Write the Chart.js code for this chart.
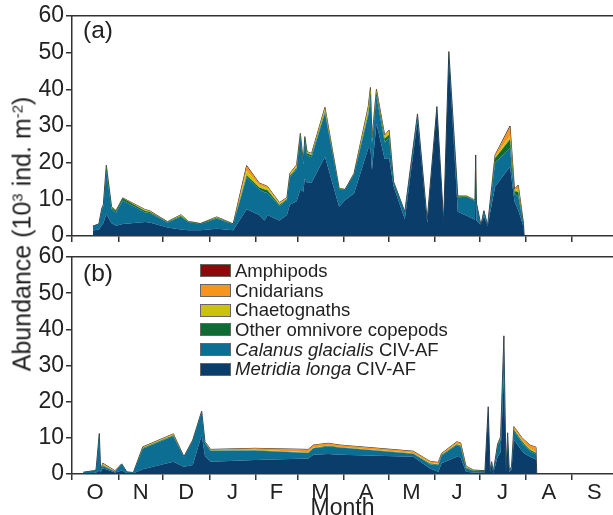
<!DOCTYPE html>
<html>
<head>
<meta charset="utf-8">
<script src="https://cdn.jsdelivr.net/npm/chart.js@4.4.1/dist/chart.umd.min.js"></script>
<style>
  html, body { margin: 0; padding: 0; background: #fff; overflow: hidden; }
  body { width: 613px; height: 515px; position: relative; font-family: 'Liberation Sans', Arial, sans-serif; color: #222; }
  canvas { position: absolute; left: 0; }
  #cTop { top: 0; }
  #cBottom { top: 240px; }
  .tag { position: absolute; left: 83px; font-size: 24.5px; line-height: 1; }
  #ytitle { position: absolute; left: 22px; top: 234px; transform: translate(-50%, -50%) rotate(-90deg); white-space: nowrap; font-size: 25px; }
  #ytitle sup { font-size: 0.6em; vertical-align: 0.55em; line-height: 0; }
  #legend { position: absolute; left: 200px; top: 261px; font-size: 18.5px; }
  #legend .row { height: 19.7px; display: flex; align-items: center; white-space: nowrap; }
  #legend .box { width: 31px; height: 13px; border: 1px solid #666; box-sizing: border-box; margin-right: 4px; }
</style>
</head>
<body>
<canvas id="cTop" width="613" height="254"></canvas>
<canvas id="cBottom" width="613" height="285"></canvas>
<div class="tag" style="top:18px">(a)</div>
<div class="tag" style="top:261px">(b)</div>
<div id="ytitle">Abundance (10<sup>3</sup> ind. m<sup>-2</sup>)</div>
<div id="legend"></div>
<script>
// x = days since 1 October
var monthStarts = [0, 31, 61, 92, 123, 151, 182, 212, 243, 273, 304, 335, 365];
var monthLetters = ['O', 'N', 'D', 'J', 'F', 'M', 'A', 'M', 'J', 'J', 'A', 'S'];
var yTicks = [0, 10, 20, 30, 40, 50, 60];

// bottom of stack first
var seriesNames = ['Metridia longa CIV-AF', 'Calanus glacialis CIV-AF', 'Other omnivore copepods', 'Chaetognaths', 'Cnidarians', 'Amphipods'];
var seriesColours = ['#0b3d6b', '#0b6e92', '#0f6a33', '#cbc30a', '#f7941d', '#8b0b0b'];

// panel (a)
var topDays = [14, 18, 20, 21, 23, 26.5, 29.5, 34, 49, 52, 64, 73, 78, 86, 97, 108, 117, 125.5, 129, 131,
  139, 144, 146, 150.5, 153, 155, 156, 157.5, 160.5, 169.5, 179, 183, 189, 198.5, 200, 201, 204, 209.5, 212.5, 215.5,
  223, 231.5, 238, 244.5, 249, 252.5, 258.5, 264.5, 270, 270.5, 271, 274, 276, 278.5, 283.5, 293.5, 296.5, 299, 302.5, 303];
var topMetridia = [1.5, 1.8, 3.0, 3.5, 6.0, 3.5, 2.8, 3.3, 3.8, 3.7, 2.3, 1.8, 1.6, 1.6, 2.0, 1.6, 7.3, 5.7, 4.2, 5.7,
  4.2, 5.7, 8.5, 9.5, 12.7, 12.1, 15.7, 14.5, 14.5, 21.6, 8.0, 9.8, 11.6, 23.9, 24.0, 18.0, 30.7, 21.0, 21.2, 13.5,
  4.6, 31.6, 3.6, 34.5, 3.6, 49.0, 6.6, 5.5, 4.4, 18.0, 4.2, 3.0, 5.5, 2.7, 13.5, 18.9, 9.4, 7.1, 2.5, 0];
var topCalanus = [1.2, 1.5, 4.2, 4.6, 11.8, 3.8, 3.6, 6.4, 2.6, 2.6, 1.4, 3.5, 2.2, 1.7, 2.8, 1.6, 8.7, 7.0, 7.7, 6.0,
  4.0, 4.2, 7.6, 8.8, 14.5, 7.5, 10.8, 7.5, 7.0, 12.0, 4.8, 2.8, 5.2, 9.0, 14.0, 7.3, 7.5, 4.6, 5.5, 1.1,
  1.9, 1.3, 0.7, 0.5, 0.3, 0.6, 4.0, 5.2, 5.2, 3.5, 4.7, 0, 1.2, 0.3, 6.5, 5.0, 2.0, 3.8, 0.8, 0];
var topOther = [0, 0, 0.3, 0.3, 1.0, 0.5, 0.4, 0.6, 0.4, 0.3, 0.1, 0.2, 0.1, 0.1, 0.2, 0.1, 0.6, 0.5, 0.8, 0.8,
  0.3, 0.2, 0.3, 0.3, 0.3, 0.3, 0.3, 0.6, 0.5, 0.3, 0.1, 0.1, 0.2, 0.6, 1.0, 0.5, 1.0, 0.9, 0.9, 0.1,
  0.1, 0.3, 0.1, 0.3, 0, 0.5, 0.2, 0.1, 0.1, 0.4, 0.1, 0, 0.2, 0, 1.2, 2.5, 0.8, 1.2, 0.2, 0];
var topChaeto = [0, 0, 0.1, 0.1, 0.3, 0.2, 0.1, 0.1, 0.3, 0.2, 0.1, 0.3, 0.1, 0, 0.2, 0, 1.1, 0.6, 0.6, 0.5,
  0.3, 0.2, 0.4, 0.5, 0.3, 0.2, 0.2, 0.3, 0.4, 0.8, 0.1, 0, 0.1, 1.2, 1.0, 0.6, 0.5, 0.6, 0.9, 0.1,
  0, 0.1, 0, 0, 0, 0.2, 0.1, 0.1, 0.1, 0.2, 0, 0, 0, 0, 0.5, 0.9, 0.3, 0.8, 0, 0];
var topCnid = [0, 0, 0, 0, 0.2, 0, 0, 0, 0.1, 0.1, 0, 0, 0, 0, 0, 0, 1.4, 0.6, 0.6, 0.5,
  0.3, 0.2, 0.3, 0.3, 0.2, 0.2, 0.1, 0.1, 0.1, 0.4, 0, 0, 0, 0.6, 0.5, 0.3, 0.3, 0.4, 0.4, 0,
  0, 0, 0, 0, 0, 0, 0, 0, 0, 0, 0, 0, 0, 0, 0.4, 2.5, 0.3, 1.0, 0, 0];
var topAmphi = [0, 0, 0, 0, 0, 0, 0, 0, 0, 0, 0, 0, 0, 0, 0, 0, 0.1, 0, 0, 0,
  0, 0, 0, 0, 0, 0, 0, 0, 0, 0, 0, 0, 0, 0, 0, 0, 0, 0, 0, 0,
  0, 0, 0, 0, 0, 0, 0, 0, 0, 0, 0, 0, 0, 0, 0, 0.2, 0, 0, 0, 0];

// panel (b)
var botDays = [7.5, 14.3, 16.1, 18.3, 19.2, 20.6, 28.8, 33.3, 36.7, 41.1, 47.4, 67.9, 75, 80.9, 86.9, 89.1,
  92.9, 122.6, 158.3, 161.7, 171.7, 179.6, 228.7, 239.9, 245.4, 247.7, 257.8, 260.4, 264, 268.9, 276.7, 278.9,
  280.1, 281.2, 282.3, 285.2, 287.2, 289.4, 290.8, 291.9, 293, 294.5, 296.1, 301.3, 303.1, 306.9, 310.9, 311.4];
var botMetridia = [0.2, 0.3, 0.4, 1.0, 0.5, 1.6, 0.4, 1.0, 0.3, 0.2, 1.3, 3.4, 2.0, 2.5, 10.8, 5.0,
  3.4, 3.9, 4.3, 5.3, 5.5, 5.3, 4.8, 1.5, 0.6, 3.0, 4.8, 4.6, 0.6, 0.4, 0.5, 17.5,
  0.6, 2.5, 0.3, 4.8, 6.0, 28.0, 0.6, 8.5, 0.6, 1.2, 9.4, 6.5, 5.7, 4.8, 4.0, 0];
var botCalanus = [0.3, 0.6, 0.7, 9.9, 0.6, 0.6, 0.3, 1.7, 0.3, 0.2, 5.7, 7.1, 2.7, 6.7, 6.4, 3.6,
  3.0, 2.6, 1.5, 1.8, 2.1, 2.0, 0.8, 1.2, 1.8, 2.1, 3.2, 3.0, 1.0, 0.5, 0.3, 1.0,
  0.4, 0.9, 0.3, 3.0, 3.6, 9.5, 0.5, 2.5, 0.5, 0.8, 2.5, 2.3, 2.2, 1.5, 1.5, 0];
var botOther = [0, 0, 0, 0.3, 0, 0.2, 0, 0.1, 0, 0, 0.2, 0.2, 0.1, 0.1, 0.1, 0.1,
  0.1, 0.1, 0.1, 0.1, 0.2, 0.1, 0.1, 0.2, 0.2, 0.2, 0.2, 0.2, 0.2, 0.1, 0.1, 0.1,
  0, 0, 0, 0.3, 0.4, 0.5, 0, 0.3, 0, 0, 0.4, 0.4, 0.4, 0.4, 0.3, 0];
var botChaeto = [0, 0, 0, 0, 0, 0.2, 0.1, 0, 0, 0, 0.2, 0.2, 0, 0.1, 0.1, 0.1,
  0.1, 0.1, 0.1, 0.1, 0.1, 0.1, 0.1, 0.2, 0.2, 0.1, 0.2, 0.2, 0.2, 0.1, 0, 0,
  0, 0, 0, 0.1, 0.2, 0.1, 0, 0.1, 0, 0, 0.3, 0.3, 0.3, 0.3, 0.3, 0];
var botCnid = [0, 0, 0, 0, 0, 0.4, 0.1, 0, 0, 0, 0.1, 0.2, 0, 0, 0, 0.1,
  0.2, 0.4, 0.8, 0.7, 0.6, 0.5, 0.5, 0.4, 0.4, 0.3, 0.5, 0.6, 0.2, 0, 0, 0,
  0, 0, 0, 0.1, 0.1, 0.1, 0, 0, 0, 0, 0.5, 0.6, 0.8, 1.0, 1.3, 0];
var botAmphi = botDays.map(function () { return 0; });

var axisColour = '#333';
var fontFamily = "'Liberation Sans', Arial, sans-serif";
var monthMids = monthLetters.map(function (m, i) { return (monthStarts[i] + monthStarts[i + 1]) / 2; });
var xMax = 362.5;

function buildDatasets(days, layers) {
  return layers.map(function (vals, i) {
    var top = i === layers.length - 1;
    return {
      label: seriesNames[i],
      data: days.map(function (d, j) { return { x: d, y: vals[j] }; }),
      backgroundColor: seriesColours[i],
      borderColor: top ? '#3a3a3a' : 'rgba(0,0,0,0)',
      borderWidth: top ? 1 : 0,
      fill: i === 0 ? 'origin' : '-1',
      pointRadius: 0,
      tension: 0
    };
  });
}

function panel(id, days, layers, bottom) {
  var xTicks = bottom ? monthStarts.slice(0, 12).concat(monthMids).sort(function (a, b) { return a - b; }) : monthStarts.slice(0, 12);
  return new Chart(document.getElementById(id), {
    type: 'line',
    data: { datasets: buildDatasets(days, layers) },
    options: {
      responsive: false,
      animation: false,
      devicePixelRatio: 1,
      layout: { padding: { top: bottom ? 17 : 16, left: 0, right: 0, bottom: bottom ? 3 : 0 } },
      plugins: { legend: { display: false }, tooltip: { enabled: false } },
      scales: {
        x: {
          type: 'linear', min: 0, max: xMax,
          afterBuildTicks: function (s) { s.ticks = xTicks.map(function (v) { return { value: v }; }); },
          afterFit: function (s) { s.height = bottom ? 48 : 18; },
          grid: {
            drawOnChartArea: false, tickLength: 6, lineWidth: 1.5,
            color: function (ctx) { return ctx.tick && monthMids.indexOf(ctx.tick.value) >= 0 ? 'rgba(0,0,0,0)' : axisColour; }
          },
          border: { color: axisColour, width: 1.5 },
          ticks: {
            display: bottom, autoSkip: false, maxRotation: 0, padding: 0,
            font: { family: fontFamily, size: 22 }, color: '#222',
            callback: function (v) { var i = monthMids.indexOf(v); return i >= 0 ? monthLetters[i] : ''; }
          },
          title: {
            display: bottom, text: 'Month', color: '#222', padding: { top: 0, bottom: 0 },
            font: { family: fontFamily, size: 23 }
          }
        },
        xTop: {
          type: 'linear', position: 'top', min: 0, max: xMax,
          grid: { display: false, drawTicks: false, tickLength: 0 }, ticks: { display: false },
          border: { color: axisColour, width: 1.5 }
        },
        y: {
          stacked: true, min: 0, max: 60,
          afterBuildTicks: function (s) { s.ticks = yTicks.map(function (v) { return { value: v }; }); },
          afterFit: function (s) { s.width = 72; },
          grid: { drawOnChartArea: false, tickLength: 6, lineWidth: 1.5, color: axisColour },
          border: { color: axisColour, width: 1.5 },
          ticks: { padding: 2, color: '#222', font: { family: fontFamily, size: 23, lineHeight: 1 } }
        }
      }
    }
  });
}

var topChart = panel('cTop', topDays, [topMetridia, topCalanus, topOther, topChaeto, topCnid, topAmphi], false);
var botChart = panel('cBottom', botDays, [botMetridia, botCalanus, botOther, botChaeto, botCnid, botAmphi], true);

// legend, top of stack first; species names in italics
var legend = document.getElementById('legend');
botChart.data.datasets.slice().reverse().forEach(function (ds) {
  var row = document.createElement('div');
  row.className = 'row';
  var box = document.createElement('span');
  box.className = 'box';
  box.style.background = ds.backgroundColor;
  row.appendChild(box);
  var txt = document.createElement('span');
  var m = ds.label.match(/^(\S+ \S+)( CIV-AF)$/);
  if (m) {
    var it = document.createElement('i');
    it.textContent = m[1];
    txt.appendChild(it);
    txt.appendChild(document.createTextNode(m[2]));
  } else {
    txt.textContent = ds.label;
  }
  row.appendChild(txt);
  legend.appendChild(row);
});
</script>
</body>
</html>
